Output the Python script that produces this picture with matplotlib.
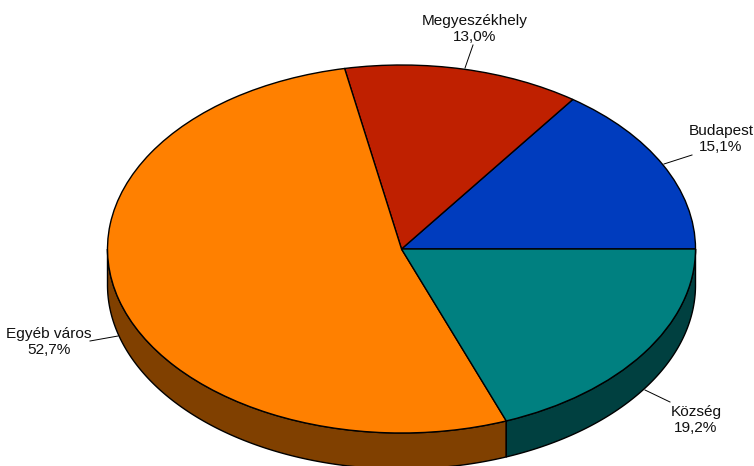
import numpy as np
import matplotlib
matplotlib.use("Agg")
import matplotlib.pyplot as plt

plt.rcParams['font.family'] = ['Liberation Sans', 'DejaVu Sans']

names = ['Budapest', 'Megyeszékhely', 'Egyéb város', 'Község']
shares = [15.1, 13.0, 52.7, 19.2]
share_labels = ['15,1%', '13,0%', '52,7%', '19,2%']
top_colors = ['#003CBE', '#BF2000', '#FF8000', '#008080']
side_colors = ['#001E5F', '#601000', '#804000', '#004040']

# pixel layout of the reference
W, H = 754, 466
cx, cy = 401.5, 249
rx, ry = 294, 184
depth = 36 / ry

label_px = [(721, 139), (475, 29), (49, 342), (696, 420)]
leader_px = [((692, 155), (664, 164)), ((473, 45), (465, 68)),
             ((90, 341), (118, 336)), ((670, 402), (645, 390))]


def px(x, y):
    return (x - cx) / rx, (cy - y) / ry


fig = plt.figure(figsize=(W / 100, H / 100), dpi=100)
ax = fig.add_axes([0, 0, 1, 1])

# side wall, only the part of each slice in the front half
edges = np.cumsum([0] + shares) / sum(shares) * 360
for i in range(len(shares)):
    a0, a1 = max(edges[i], 180), min(edges[i + 1], 360)
    if a1 <= a0:
        continue
    t = np.radians(np.linspace(a0, a1, 200))
    xs = np.concatenate([np.cos(t), np.cos(t[::-1])])
    ys = np.concatenate([np.sin(t), np.sin(t[::-1]) - depth])
    ax.fill(xs, ys, facecolor=side_colors[i], edgecolor='black', linewidth=1.0, zorder=1)

ax.pie(shares, colors=top_colors, startangle=0, radius=1, counterclock=True,
       wedgeprops=dict(edgecolor='black', linewidth=1.0, zorder=2))

ax.set_aspect('auto')
ax.set_xlim((0 - cx) / rx, (W - cx) / rx)
ax.set_ylim((cy - H) / ry, cy / ry)
ax.axis('off')

for i in range(len(names)):
    p, q = leader_px[i]
    a, b = px(*p), px(*q)
    ax.plot([a[0], b[0]], [a[1], b[1]], color='black', linewidth=0.7, zorder=3, clip_on=False)
    lx, ly = px(*label_px[i])
    ax.text(lx, ly, names[i] + '\n' + share_labels[i], ha='center', va='center',
            fontsize=11.1, color='#111111', linespacing=1.25, zorder=4)

fig.savefig('out.png', dpi=100)
